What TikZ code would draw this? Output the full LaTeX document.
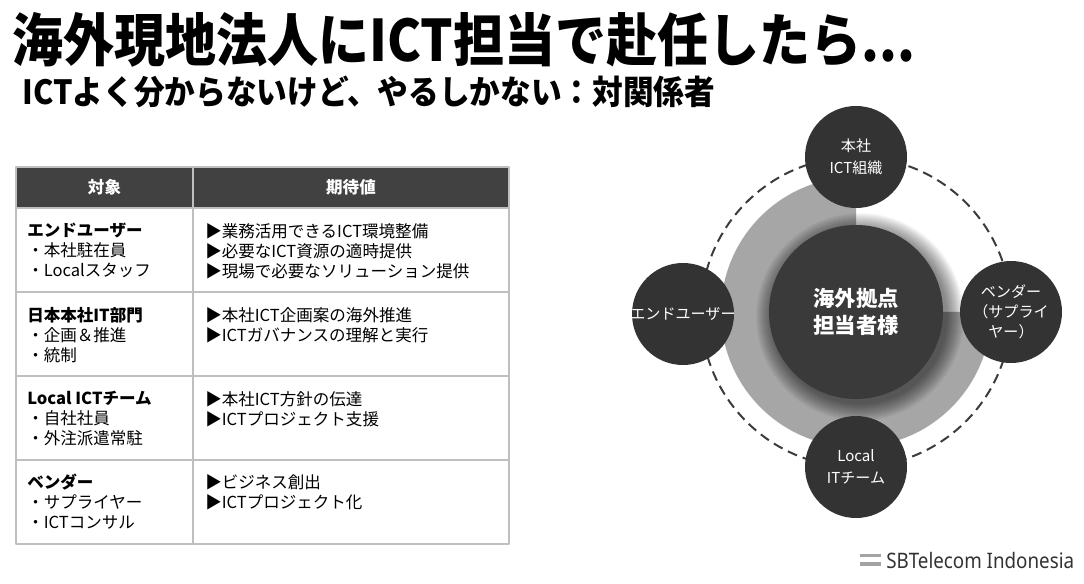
\documentclass[tikz,border=0pt]{standalone}
\usepackage{fontspec}
\setmainfont{Noto Sans CJK JP}
\newfontfamily\logofont{Noto Sans}
\usepackage{graphicx}
\usetikzlibrary{calc}

\definecolor{hdrgray}{HTML}{414141}
\definecolor{gridgray}{HTML}{BFBFBF}
\definecolor{ringgray}{HTML}{A6A6A6}
\definecolor{hubgray}{HTML}{3A3A3A}
\definecolor{satgray}{HTML}{333333}
\definecolor{dashgray}{HTML}{3C3C3C}
\definecolor{logogray}{HTML}{333333}
\definecolor{bargray}{HTML}{A3A3A3}

\def\px{0.75pt}

\begin{document}
\begin{tikzpicture}[x=0.75pt,y=-0.75pt, line cap=butt, line join=round,
		celltext/.style={anchor=north west, inner sep=0pt, align=left,
			font=\fontsize{12.4}{15}\selectfont},
		hdrtext/.style={text=white, inner sep=0pt, font=\fontsize{12.4}{15}\selectfont\bfseries},
		hub/.style={circle, fill=hubgray, minimum size={174*\px}, inner sep=0pt,
			text=white, align=center, font=\fontsize{16}{20.5}\selectfont\bfseries},
		sat/.style={circle, fill=satgray, minimum size={102*\px}, inner sep=0pt,
			text=white, align=center, font=\fontsize{11.3}{16.5}\selectfont}]
	
	% ---- page frame
	\fill[white] (0,0) rectangle (1084,584);
	\useasboundingbox (0,0) rectangle (1084,584);
	
	% ---- title lines
	\node[anchor=west, inner sep=0pt, font=\fontsize{43}{43}\selectfont\bfseries] (title) at (12,40)
		{\scalebox{0.89}[1]{海外現地法人にICT担当で赴任したら...}};
	\node[anchor=west, inner sep=0pt, font=\fontsize{25}{25}\selectfont\bfseries] (subtitle) at (22,92)
		{\scalebox{0.92}[1]{ICTよく分からないけど、やるしかない：対関係者}};
	
	% ---- table
	\def\tL{16}
	\def\tR{509}
	\def\tM{193}
	\fill[hdrgray] (\tL,167) rectangle (\tR,208);
	\foreach \y in {208,292,376,460}{
		\draw[gridgray, line width=1.2pt] (\tL,\y) -- (\tR,\y);
	}
	\draw[gridgray, line width=1.2pt] (\tL,167) rectangle (\tR,544);
	\draw[gridgray, line width=1.2pt] (\tM,167) -- (\tM,544);
	
	\node[hdrtext] (hdrTarget) at ({(\tL+\tM)/2},187) {対象};
	\node[hdrtext] (hdrExpect) at ({(\tM+\tR)/2},187) {期待値};
	
	% row texts (left: who, right: expectations)
	\node[celltext] (whoUser)   at (27,223) {{\bfseries エンドユーザー}\\・本社駐在員\\・Localスタッフ};
	\node[celltext] (wantUser)  at (205,223) {▶業務活用できるICT環境整備\\▶必要なICT資源の適時提供\\▶現場で必要なソリューション提供};
	\node[celltext] (whoHQ)     at (27,307) {{\bfseries 日本本社IT部門}\\・企画＆推進\\・統制};
	\node[celltext] (wantHQ)    at (205,307) {▶本社ICT企画案の海外推進\\▶ICTガバナンスの理解と実行};
	\node[celltext] (whoLocal)  at (27,391) {{\bfseries Local ICTチーム}\\・自社社員\\・外注派遣常駐};
	\node[celltext] (wantLocal) at (205,391) {▶本社ICT方針の伝達\\▶ICTプロジェクト支援};
	\node[celltext] (whoVendor) at (27,474) {{\bfseries ベンダー}\\・サプライヤー\\・ICTコンサル};
	\node[celltext] (wantVendor) at (205,474) {▶ビジネス創出\\▶ICTプロジェクト化};
	
	% ---- relation diagram
	\coordinate (C) at (856,312);
	\def\ringR{135}
	\def\orbitR{155}
	
	% gray ring, top-right quarter left open
	\fill[ringgray] (C) -- ++(\ringR,0) arc[start angle=0, end angle=270, radius=\ringR] -- cycle;
	
	% dashed orbit through the satellites
	\draw[dashgray, line width=1.5pt, dash pattern=on 7.5pt off 4.5pt] (C) circle[radius=\orbitR];
	
	% soft shadow under the hub
	\foreach \k in {1,...,18}{
		\fill[black, opacity=0.03] ($(C)+(4,5)$) circle[radius={86+\k}];
	}
	\node[hub] (hub) at (C) {海外拠点\\担当者様};
	
	% satellites (end user sits a bit outside the orbit)
	\node[sat] (hq)     at ($(C)+(0,-\orbitR)$) {本社\\ICT組織};
	\node[sat] (user)   at ($(C)+(-173,2)$) {\makebox[0pt]{エンドユーザー}};
	\node[sat, font=\fontsize{11.3}{15}\selectfont] (vendor) at ($(C)+(\orbitR,0)$) {ベンダー\\（サプライ\\ヤー）};
	\node[sat] (local)  at ($(C)+(0,\orbitR)$) {Local\\ITチーム};
	
	% ---- logo
	\fill[bargray] (860,553.5) rectangle (881,557);
	\fill[bargray] (860,562) rectangle (881,565.5);
	\node[anchor=west, inner sep=0pt, text=logogray, font=\logofont\fontsize{16}{16}\selectfont] (logo) at (886,560)
		{\scalebox{0.88}[1]{SBTelecom Indonesia}};
	
\end{tikzpicture}
\end{document}
